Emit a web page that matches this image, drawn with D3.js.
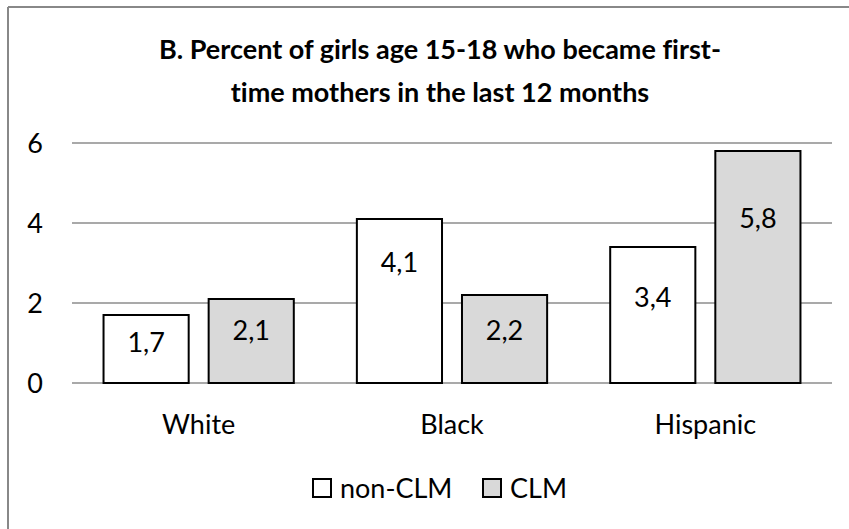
<!DOCTYPE html>
<html><head><meta charset="utf-8">
<script src="https://cdn.jsdelivr.net/npm/d3@7"></script>
<style>body{margin:0;background:#fff}svg{display:block}text{font-family:Lato,"Open Sans",sans-serif;fill:#000;font-variant-ligatures:none;font-feature-settings:"liga" 0,"clig" 0,"dlig" 0}</style>
</head><body><div id="chart"></div>
<script>
const categories = ["White", "Black", "Hispanic"];
const seriesNames = ["non-CLM", "CLM"];
const nonCLM = [1.7, 4.1, 3.4];
const CLM = [2.1, 2.2, 5.8];
const yTicks = [0, 2, 4, 6];
const titleLines = ["B. Percent of girls age 15-18 who became first-", "time mothers in the last 12 months"];
// where each value label sits (in data units), as placed in the original
const labelAnchorNon = [1.03, 3.03, 2.15];
const labelAnchorCLM = [1.33, 1.33, 4.13];

const W = 849, H = 529;
const FS = 27;
const svg = d3.select("#chart").append("svg").attr("width", W).attr("height", H);

// chart border (only top and left visible; cropped chart)
svg.append("line").attr("x1", 8).attr("x2", W + 10).attr("y1", 7).attr("y2", 7).attr("stroke", "#888").attr("stroke-width", 2);
svg.append("line").attr("x1", 8).attr("x2", 8).attr("y1", 7).attr("y2", H + 10).attr("stroke", "#888").attr("stroke-width", 2);

const x0 = d3.scaleBand().domain(categories).range([72, 832]);
const x1 = d3.scaleBand().domain(seriesNames).range([0, x0.bandwidth()]).paddingInner(0.19).paddingOuter(0.3);
const y = d3.scaleLinear().domain([0, 6]).range([383, 143]);

// gridlines
svg.append("g").selectAll("line").data(yTicks).join("line")
  .attr("x1", 72).attr("x2", 832)
  .attr("y1", d => y(d)).attr("y2", d => y(d))
  .attr("stroke", "#8c8c8c").attr("stroke-width", 1.5);

// y tick labels
svg.append("g").selectAll("text").data(yTicks).join("text")
  .attr("x", 43).attr("y", d => y(d) + 10)
  .attr("text-anchor", "end").style("font-size", FS + "px")
  .text(d => d);

const fills = {"non-CLM": "#ffffff", "CLM": "#d9d9d9"};
const rows = [];
categories.forEach((c, i) => {
  rows.push({cat: c, s: "non-CLM", v: nonCLM[i], la: labelAnchorNon[i]});
  rows.push({cat: c, s: "CLM", v: CLM[i], la: labelAnchorCLM[i]});
});

const fmt = v => d3.format(".1f")(v).replace(".", ",");

svg.append("g").selectAll("rect").data(rows).join("rect")
  .attr("x", d => x0(d.cat) + x1(d.s))
  .attr("width", x1.bandwidth())
  .attr("y", d => y(d.v))
  .attr("height", d => y(0) - y(d.v))
  .attr("fill", d => fills[d.s])
  .attr("stroke", "#000").attr("stroke-width", 2);

svg.append("g").selectAll("text").data(rows).join("text")
  .attr("x", d => x0(d.cat) + x1(d.s) + x1.bandwidth() / 2)
  .attr("y", d => y(d.la) + 10)
  .attr("text-anchor", "middle").style("font-size", FS + "px")
  .text(d => fmt(d.v));

// category labels
svg.append("g").selectAll("text").data(categories).join("text")
  .attr("x", d => x0(d) + x0.bandwidth() / 2)
  .attr("y", 434)
  .attr("text-anchor", "middle").style("font-size", FS + "px")
  .text(d => d);

// title
svg.append("g").selectAll("text").data(titleLines).join("text")
  .attr("x", 440).attr("y", (d, i) => 59 + i * 43)
  .attr("text-anchor", "middle").style("font-size", "27px").style("font-weight", "bold")
  .text(d => d);

// legend
const lg = svg.append("g");
const legendItems = [{s: "non-CLM", x: 313}, {s: "CLM", x: 483}];
lg.selectAll("rect").data(legendItems).join("rect")
  .attr("x", d => d.x).attr("y", 479).attr("width", 18).attr("height", 18)
  .attr("fill", d => fills[d.s]).attr("stroke", "#000").attr("stroke-width", 2);
lg.selectAll("text").data(legendItems).join("text")
  .attr("x", d => d.x + 27).attr("y", 498)
  .style("font-size", FS + "px")
  .text(d => d.s);
</script></body></html>
